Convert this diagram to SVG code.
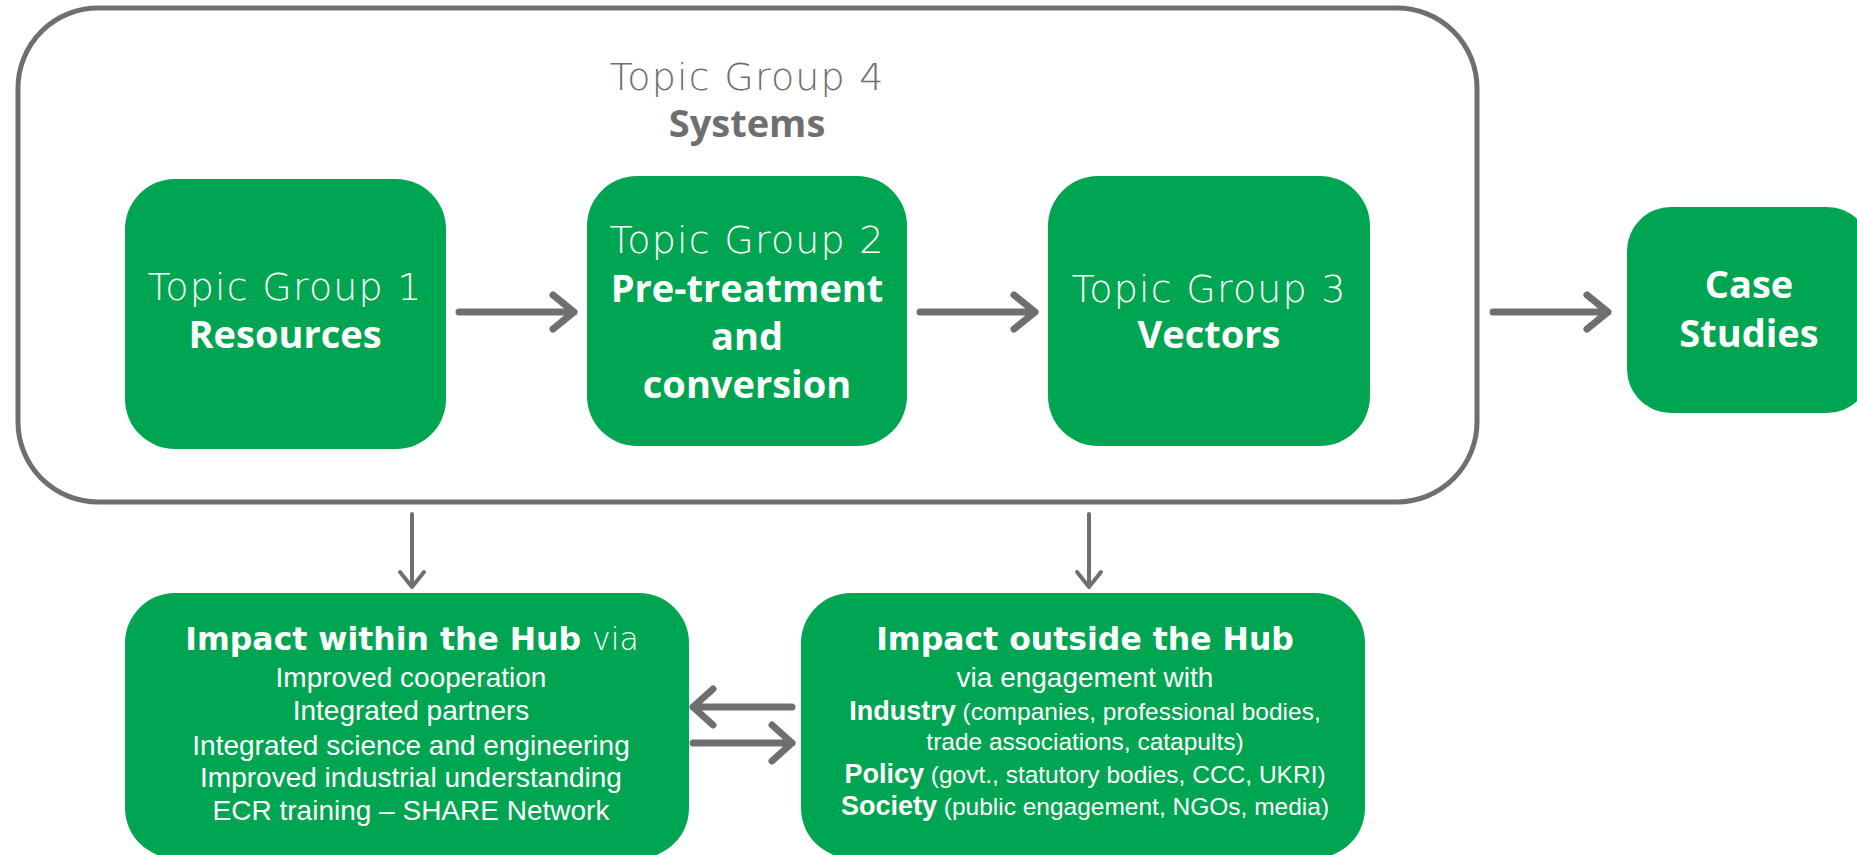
<svg xmlns="http://www.w3.org/2000/svg" width="1857" height="855" viewBox="0 0 1857 855">
<style>
.box{fill:#00a551}
.frame{fill:none;stroke:#6f6f6f;stroke-width:5}
.conn{fill:none;stroke:#6f6f6f;stroke-linecap:round;stroke-linejoin:round}
.thick{stroke-width:7}
.thin{stroke-width:4}
.lt{font-family:"DejaVu Sans","Liberation Sans",sans-serif;font-weight:200;text-anchor:middle;font-size:38px;letter-spacing:1.2px}
.bd{font-family:"Open Sans","Liberation Sans",sans-serif;font-weight:700;text-anchor:middle;font-size:38px}
.w{fill:#ffffff}
.g{fill:#6f6f6f}
.body{font-family:"Liberation Sans",Arial,sans-serif;font-size:28px;fill:#ffffff;text-anchor:middle}
.sm{font-size:24.5px}
.kw{font-weight:700;font-size:27px}
.ttl{font-family:"DejaVu Sans","Liberation Sans",sans-serif;font-weight:700;font-size:31.5px;fill:#ffffff;text-anchor:middle}
</style>
<rect width="1857" height="855" fill="#ffffff"/>
<g id="topic-group-4">
<rect class="frame" x="18" y="8" width="1459" height="494" rx="80" ry="80"/>
<text class="lt g" x="747" y="90">Topic Group 4</text>
<text class="bd g" x="747" y="137">Systems</text>
</g>
<g id="topic-group-1">
<rect class="box" x="125" y="179" width="321" height="270" rx="50" ry="50"/>
<text class="lt w" x="285" y="300">Topic Group 1</text>
<text class="bd w" x="285" y="348">Resources</text>
</g>
<g id="topic-group-2">
<rect class="box" x="587" y="176" width="320" height="270" rx="50" ry="50"/>
<text class="lt w" x="747" y="253">Topic Group 2</text>
<text class="bd w" x="747" y="302">Pre-treatment</text>
<text class="bd w" x="747" y="350">and</text>
<text class="bd w" x="747" y="398">conversion</text>
</g>
<g id="topic-group-3">
<rect class="box" x="1048" y="176" width="322" height="270" rx="50" ry="50"/>
<text class="lt w" x="1209" y="302">Topic Group 3</text>
<text class="bd w" x="1209" y="348">Vectors</text>
</g>
<g id="case-studies">
<rect class="box" x="1627" y="207" width="244" height="206" rx="44" ry="44"/>
<text class="bd w" x="1749" y="298">Case</text>
<text class="bd w" x="1749" y="347">Studies</text>
</g>
<g id="impact-within">
<rect class="box" x="125" y="593" width="564" height="265" rx="50" ry="50"/>
<text class="ttl" x="412" y="650">Impact within the Hub <tspan font-weight="200">via</tspan></text>
<text class="body" x="411" y="687">Improved cooperation</text>
<text class="body" x="411" y="720">Integrated partners</text>
<text class="body" x="411" y="755">Integrated science and engineering</text>
<text class="body" x="411" y="787">Improved industrial understanding</text>
<text class="body" x="411" y="820">ECR training – SHARE Network</text>
</g>
<g id="impact-outside">
<rect class="box" x="801" y="593" width="564" height="265" rx="50" ry="50"/>
<text class="ttl" x="1085" y="650">Impact outside the Hub</text>
<text class="body" x="1085" y="687">via engagement with</text>
<text class="body sm" x="1085" y="720"><tspan class="kw">Industry</tspan> (companies, professional bodies,</text>
<text class="body sm" x="1085" y="750">trade associations, catapults)</text>
<text class="body sm" x="1085" y="783"><tspan class="kw">Policy</tspan> (govt., statutory bodies, CCC, UKRI)</text>
<text class="body sm" x="1085" y="815"><tspan class="kw">Society</tspan> (public engagement, NGOs, media)</text>
</g>
<g id="connectors">
<path class="conn thick" d="M459 312 H574 M553 295 L574 312 L553 329"/>
<path class="conn thick" d="M920 312 H1035 M1014 295 L1035 312 L1014 329"/>
<path class="conn thick" d="M1493 312 H1608 M1587 295 L1608 312 L1587 329"/>
<path class="conn thin" d="M412 514 V587 M400 572 L412 587 L424 572"/>
<path class="conn thin" d="M1089 514 V587 M1077 572 L1089 587 L1101 572"/>
<path class="conn thick" d="M792 707 H693 M713 689 L693 707 L713 725"/>
<path class="conn thick" d="M693 743 H792 M772 725 L792 743 L772 761"/>
</g>
</svg>
